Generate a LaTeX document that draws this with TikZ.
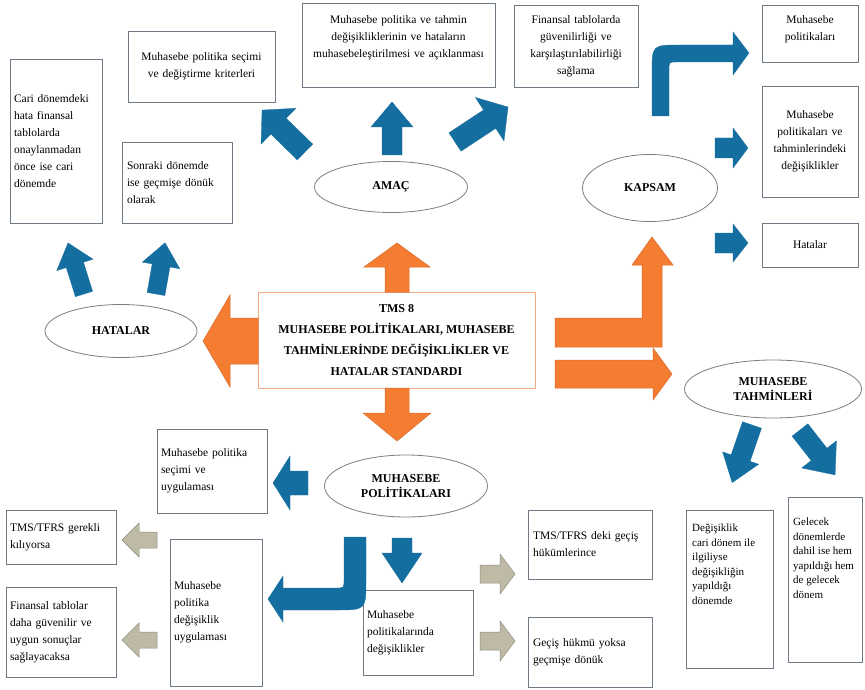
\documentclass[tikz,border=0pt]{standalone}
\usepackage{fontspec}
\setmainfont{Liberation Serif}
\usetikzlibrary{shapes.geometric}
\definecolor{arrblue}{RGB}{20,110,160}
\definecolor{arrorange}{RGB}{245,125,50}
\definecolor{orangeedge}{RGB}{215,105,40}
\definecolor{arrgray}{RGB}{190,186,166}
\definecolor{grayedge}{RGB}{140,140,128}
\definecolor{boxedge}{RGB}{112,122,132}
\definecolor{centeredge}{RGB}{242,170,130}
\definecolor{elledge}{RGB}{125,125,125}
\newcommand\BArrow[7]{%
  \begin{scope}[shift={#2},rotate=#3]
    \filldraw[#1] (0,#5) -- ({#4-#7},#5) -- ({#4-#7},#6) -- (#4,0) -- ({#4-#7},-#6) -- ({#4-#7},-#5) -- (0,-#5) -- cycle;
  \end{scope}}
\tikzset{
  bx/.style={draw=boxedge, line width=0.9pt, rectangle, inner sep=0pt, font=\fontsize{11.5}{17}\selectfont},
  bxl/.style={bx, align=left},
  bxc/.style={bx, align=center},
  txt/.style={inner sep=0pt, font=\fontsize{11}{14.5}\selectfont, align=left},
  ell/.style={draw=elledge, line width=0.8pt, ellipse, inner sep=0pt, align=center, font=\fontsize{12}{15}\selectfont\bfseries},
  blue/.style={fill=arrblue, draw=arrblue, line width=0.3pt},
  orng/.style={fill=arrorange, draw=orangeedge, line width=0.5pt},
  gry/.style={fill=arrgray, draw=grayedge, line width=0.5pt},
}
\begin{document}
\begin{tikzpicture}[x=1pt,y=-1pt]
\fill[white] (0,0) rectangle (865,690);
\useasboundingbox (0,0) rectangle (865,690);

% ---------- boxes ----------
\node[bxl, minimum width=92, minimum height=164, text width=84] (b1) at (56,141)
  {Cari dönemdeki\\hata finansal\\tablolarda\\onaylanmadan\\önce ise cari\\dönemde};
\node[bxl, minimum width=110, minimum height=81, text width=100] (b2) at (177,182.5)
  {Sonraki dönemde\\ise geçmişe dönük\\olarak};
\node[bxc, minimum width=147, minimum height=71, text width=140] (b3) at (201.5,66.5)
  {Muhasebe politika seçimi\\ve değiştirme kriterleri};
\node[bx, minimum width=193, minimum height=84] (b4) at (398.5,45) {};
\node[bxc, inner sep=0pt, draw=none, text width=187] (b4t) at (398.5,38)
  {Muhasebe politika ve tahmin\\değişikliklerinin ve hataların\\muhasebeleştirilmesi ve açıklanması};
\node[bxc, minimum width=124, minimum height=82, text width=118] (b5) at (576,46)
  {Finansal tablolarda\\güvenilirliği ve\\karşılaştırılabilirliği\\sağlama};
\node[bx, minimum width=96, minimum height=57] (b6) at (810,33.5) {};
\node[bxc, draw=none, text width=90] (b6t) at (810,29)
  {Muhasebe\\politikaları};
\node[bxc, minimum width=96, minimum height=111, text width=90] (b7) at (810,141.5)
  {Muhasebe\\politikaları ve\\tahminlerindeki\\değişiklikler};
\node[bxc, minimum width=96, minimum height=44, text width=90] (b8) at (810,245)
  {Hatalar};

\node[draw=centeredge, line width=0.9pt, inner sep=0pt, minimum width=277, minimum height=96,
  align=center, font=\fontsize{12}{21}\selectfont\bfseries] (c) at (396.5,340)
  {TMS 8\\MUHASEBE POLİTİKALARI, MUHASEBE\\TAHMİNLERİNDE DEĞİŞİKLİKLER VE\\HATALAR STANDARDI};

\node[bxl, minimum width=110, minimum height=84, text width=102] (b9) at (212,471)
  {Muhasebe politika\\seçimi ve\\uygulaması};
\node[bxl, minimum width=110, minimum height=54, text width=102] (b10) at (61,537)
  {TMS/TFRS gerekli\\kılıyorsa};
\node[bxl, minimum width=110, minimum height=90, text width=102] (b11) at (61,632)
  {Finansal tablolar\\daha güvenilir ve\\uygun sonuçlar\\sağlayacaksa};
\node[bxl, minimum width=92, minimum height=147, text width=84] (b12) at (216,612.5)
  {Muhasebe\\politika\\değişiklik\\uygulaması};
\node[bxl, minimum width=110, minimum height=85, text width=102] (b13) at (418,632.5)
  {Muhasebe\\politikalarında\\değişiklikler};
\node[bxl, minimum width=124, minimum height=69, text width=114] (b14) at (590,544.5)
  {TMS/TFRS deki geçiş\\hükümlerince};
\node[bxl, minimum width=124, minimum height=70, text width=114] (b15) at (590,652)
  {Geçiş hükmü yoksa\\geçmişe dönük};
\node[bx, minimum width=87, minimum height=158] (b16) at (729.5,589) {};
\node[txt, anchor=north west] (b16t) at (692,524)
  {Değişiklik\\cari dönem ile\\ilgiliyse\\değişikliğin\\yapıldığı\\dönemde};
\node[bx, minimum width=74, minimum height=165] (b17) at (825,579.5) {};
\node[txt, anchor=north west] (b17t) at (793,518)
  {Gelecek\\dönemlerde\\dahil ise hem\\yapıldığı hem\\de gelecek\\dönem};

% ---------- ellipses ----------
\node[ell, minimum width=153, minimum height=51] (amac) at (391,187) {AMAÇ};
\node[ell, minimum width=135, minimum height=67] (kapsam) at (650,188) {KAPSAM};
\node[ell, minimum width=152, minimum height=53] (hatalar) at (121,331) {HATALAR};
\node[ell, minimum width=177, minimum height=58] (tahmin) at (773,389) {MUHASEBE\\TAHMİNLERİ};
\node[ell, minimum width=163, minimum height=62] (polit) at (406,486) {MUHASEBE\\POLİTİKALARI};

% ---------- orange arrows ----------
\BArrow{orng}{(397,292)}{90}{49}{12}{33}{24}
\BArrow{orng}{(397,388)}{-90}{53}{12}{34}{28}
\BArrow{orng}{(258,341)}{180}{55}{23}{46}{27}
\filldraw[orng] (555,318) -- (642,318) -- (642,265) -- (632,265) -- (652,237) -- (673,265) -- (662,265) -- (662,347) -- (555,347) -- cycle;
\BArrow{orng}{(555,374)}{0}{117}{14}{26}{19}

% ---------- blue arrows ----------
\BArrow{blue}{(305,152)}{135.7}{60}{11}{25}{23}
\BArrow{blue}{(392,155)}{90}{53}{10}{21}{25}
\BArrow{blue}{(455,142)}{33.4}{63.5}{11}{26}{22}
\BArrow{blue}{(84,294)}{107.4}{53.5}{9}{19}{23}
\BArrow{blue}{(156,294)}{80}{52}{9}{19}{23}
\filldraw[blue] (652,116) -- (652,73) .. controls (652,45) .. (680,45) -- (733,45) -- (733,32) -- (749,53) -- (733,75) -- (733,62) -- (677,62) .. controls (669,62) .. (669,70) -- (669,116) -- cycle;
\BArrow{blue}{(715,148)}{0}{33}{10}{20}{15}
\BArrow{blue}{(715,243)}{0}{33}{10}{19}{15}
\BArrow{blue}{(752,425)}{-109}{61}{10}{19}{26}
\BArrow{blue}{(800,430)}{-52}{57}{10}{22}{26}
\BArrow{blue}{(308,483)}{180}{35}{12}{27}{17}
\BArrow{blue}{(402,538)}{-90}{45}{10}{20}{30}
\filldraw[blue] (344,537) -- (366,537) -- (366,580) .. controls (366,610) .. (336,610) -- (283,610) -- (283,622) -- (268,599) -- (283,576) -- (283,588) -- (336,588) .. controls (344,588) .. (344,580) -- cycle;

% ---------- gray arrows ----------
\BArrow{gry}{(157,540)}{180}{35}{8}{17}{17}
\BArrow{gry}{(157,640)}{180}{35}{8}{17}{17}
\BArrow{gry}{(480,574)}{0}{35}{9}{20}{15}
\BArrow{gry}{(480,641)}{0}{35}{9}{20}{15}
\end{tikzpicture}
\end{document}
